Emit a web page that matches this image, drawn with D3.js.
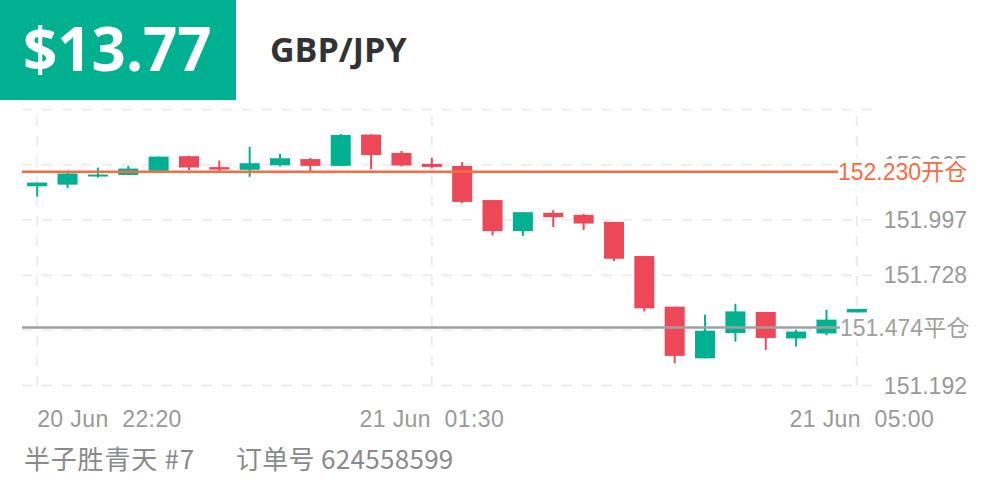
<!DOCTYPE html>
<html>
<head>
<meta charset="utf-8">
<script src="https://cdn.jsdelivr.net/npm/d3@7"></script>
<style>
  html, body { margin: 0; padding: 0; background: #fff; }
  svg { display: block; }
</style>
</head>
<body>
<svg id="chart"></svg>
<script>
// 数据：K线 (开, 高, 低, 收)
const opens  = [152.160, 152.168, 152.209, 152.215, 152.235, 152.306, 152.253, 152.240, 152.262, 152.292,
                152.259, 152.411, 152.322, 152.269, 152.259, 152.093, 151.942, 152.031, 152.021, 151.987,
                151.821, 151.575, 151.324, 151.447, 151.549, 151.421, 151.445, 151.547];
const highs  = [152.178, 152.235, 152.251, 152.259, 152.304, 152.309, 152.285, 152.351, 152.317, 152.298,
                152.414, 152.413, 152.332, 152.298, 152.278, 152.093, 152.034, 152.044, 152.026, 151.987,
                151.822, 151.575, 151.536, 151.589, 151.549, 151.463, 151.560, 151.564];
const lows   = [152.110, 152.151, 152.202, 152.215, 152.235, 152.238, 152.230, 152.206, 152.256, 152.230,
                152.259, 152.243, 152.256, 152.246, 152.078, 151.921, 151.919, 151.962, 151.948, 151.797,
                151.552, 151.300, 151.324, 151.405, 151.365, 151.381, 151.436, 151.547];
const closes = [152.178, 152.222, 152.217, 152.246, 152.304, 152.251, 152.241, 152.272, 152.296, 152.259,
                152.409, 152.312, 152.261, 152.254, 152.084, 151.942, 152.034, 152.010, 151.979, 151.808,
                151.567, 151.336, 151.458, 151.552, 151.423, 151.454, 151.512, 151.564];

// 网格刻度 (151.460 被平仓标签完全遮住, 不画文字)
const yTicks = [152.533, 152.265, 151.997, 151.728, 151.460, 151.192];
const yTickLabels = ['', '152.265', '151.997', '151.728', '', '151.192'];
const timeIdx = [0, 13, 27];
const timeLabels = ['20 Jun\u00a0\u00a022:20', '21 Jun\u00a0\u00a001:30', '21 Jun\u00a0\u00a005:00'];

const openPrice = 152.230;
const closePrice = 151.474;
const profit = '$13.77';
const symbol = 'GBP/JPY';
const userName = '半子胜青天 #7';
const orderNo = '订单号 624558599';

const width = 1002, height = 501;
const green = '#00b191', red = '#ec4858';
const fontCN = '"Liberation Sans", "Noto Sans CJK SC", sans-serif';

const svg = d3.select('#chart')
  .attr('width', width)
  .attr('height', height);

// 顶部标题
svg.append('rect')
  .attr('x', 0).attr('y', 0)
  .attr('width', 236).attr('height', 100)
  .attr('fill', green);

svg.append('text')
  .attr('x', 23).attr('y', 71)
  .attr('font-family', '"Open Sans", sans-serif')
  .attr('font-weight', 700)
  .attr('font-size', 60)
  .attr('fill', '#fff')
  .text(profit);

svg.append('text')
  .attr('x', 270).attr('y', 62)
  .attr('font-family', '"Open Sans", sans-serif')
  .attr('font-weight', 700)
  .attr('font-size', 34)
  .attr('fill', '#333')
  .text(symbol);

// 比例尺
const idx = d3.range(opens.length);
const xScale = d3.scaleBand()
  .domain(idx)
  .range([22, 872])
  .paddingInner(0.34)
  .paddingOuter(0.17);
const bw = xScale.bandwidth();
const cx = i => xScale(i) + bw / 2;

const yScale = d3.scaleLinear()
  .domain([151.192, 152.533])
  .range([385.5, 109.5]);

// 网格
const grid = svg.append('g')
  .attr('stroke', '#ededed')
  .attr('stroke-width', 2)
  .attr('stroke-dasharray', '10,10');

grid.selectAll('line.h')
  .data(yTicks)
  .enter()
  .append('line')
  .attr('class', 'h')
  .attr('x1', 22).attr('x2', 876)
  .attr('y1', d => yScale(d)).attr('y2', d => yScale(d));

grid.selectAll('line.v')
  .data(timeIdx)
  .enter()
  .append('line')
  .attr('class', 'v')
  .attr('x1', d => cx(d)).attr('x2', d => cx(d))
  .attr('y1', 116).attr('y2', 392);

// Y轴标签
svg.append('g')
  .selectAll('text')
  .data(yTicks.filter((d, i) => yTickLabels[i]))
  .enter()
  .append('text')
  .attr('x', 967)
  .attr('y', d => yScale(d))
  .attr('dy', '0.36em')
  .attr('text-anchor', 'end')
  .attr('font-family', fontCN)
  .attr('font-size', 23)
  .attr('fill', '#999')
  .text(d => yTickLabels[yTicks.indexOf(d)]);

// 时间标签
svg.append('g')
  .selectAll('text')
  .data(timeIdx)
  .enter()
  .append('text')
  .attr('x', (d, i) => i === 0 ? cx(d) : cx(d) + (i === 2 ? 5 : 0))
  .attr('y', 427)
  .attr('text-anchor', (d, i) => i === 0 ? 'start' : 'middle')
  .attr('font-family', fontCN)
  .attr('font-size', 23)
  .attr('letter-spacing', 0.4)
  .attr('fill', '#999')
  .text((d, i) => timeLabels[i]);

// K线
const candles = svg.append('g')
  .selectAll('g')
  .data(idx)
  .enter()
  .append('g')
  .attr('fill', i => closes[i] >= opens[i] ? green : red)
  .attr('stroke', i => closes[i] >= opens[i] ? green : red);

candles.append('line')
  .attr('x1', i => cx(i)).attr('x2', i => cx(i))
  .attr('y1', i => yScale(highs[i]))
  .attr('y2', i => yScale(lows[i]))
  .attr('stroke-width', 2);

candles.append('rect')
  .attr('x', i => xScale(i))
  .attr('width', bw)
  .attr('y', i => yScale(Math.max(opens[i], closes[i])))
  .attr('height', i => Math.max(2, Math.abs(yScale(opens[i]) - yScale(closes[i]))))
  .attr('stroke', 'none');

// 开仓 / 平仓 线
const levels = [
  { v: openPrice, label: openPrice.toFixed(3) + '开仓', color: '#fb6b3f', x2: 838 },
  { v: closePrice, label: closePrice.toFixed(3) + '平仓', color: '#a0a0a0', x2: 840 }
];

const lv = svg.append('g')
  .selectAll('g')
  .data(levels)
  .enter()
  .append('g');

lv.append('line')
  .attr('x1', 22).attr('x2', d => d.x2)
  .attr('y1', d => yScale(d.v)).attr('y2', d => yScale(d.v))
  .attr('stroke', d => d.color)
  .attr('stroke-width', 2.5);

lv.append('rect')
  .attr('x', d => d.x2)
  .attr('y', d => yScale(d.v) - 13)
  .attr('width', 140)
  .attr('height', 26)
  .attr('fill', '#fff');

lv.append('text')
  .attr('x', d => d.x2)
  .attr('y', d => yScale(d.v))
  .attr('dy', '0.36em')
  .attr('font-family', fontCN)
  .attr('font-size', 23)
  .attr('fill', d => d.color)
  .text(d => d.label);

// 底部信息
svg.append('text')
  .attr('x', 24).attr('y', 469)
  .attr('font-family', '"Noto Sans CJK SC", sans-serif')
  .attr('font-size', 26)
  .attr('letter-spacing', 0.8)
  .attr('fill', '#8a8a8a')
  .text(userName);

svg.append('text')
  .attr('x', 236).attr('y', 469)
  .attr('font-family', '"Noto Sans CJK SC", sans-serif')
  .attr('font-size', 26)
  .attr('letter-spacing', 0.3)
  .attr('fill', '#8a8a8a')
  .text(orderNo);
</script>
</body>
</html>
